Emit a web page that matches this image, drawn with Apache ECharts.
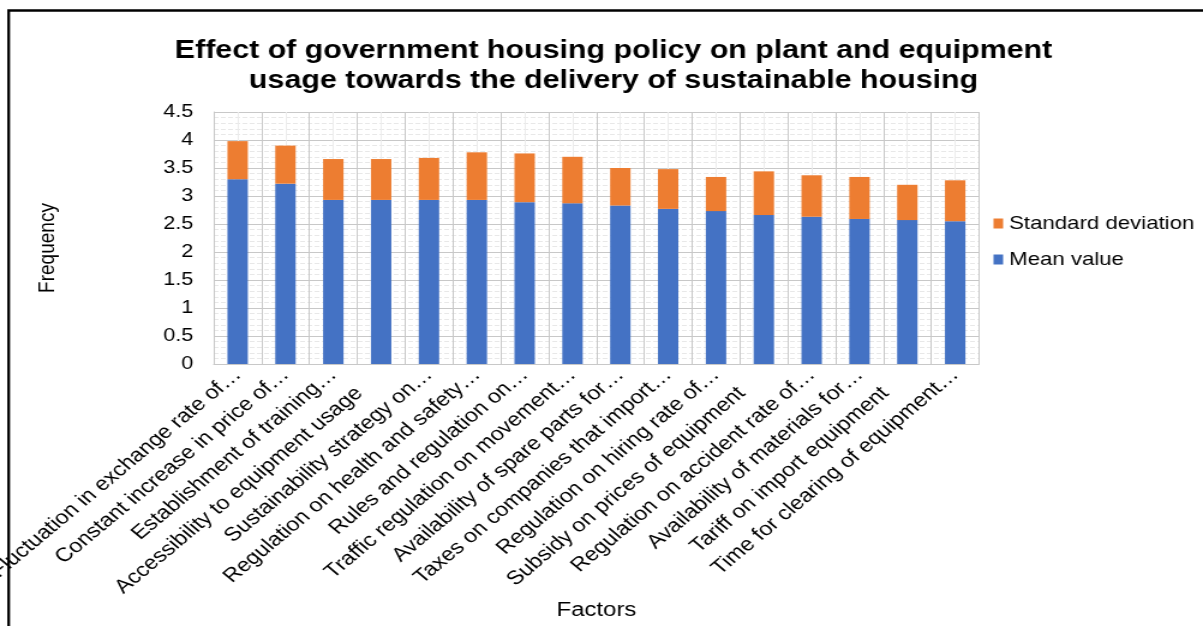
<!DOCTYPE html>
<html>
<head>
<meta charset="utf-8">
<script src="https://cdn.jsdelivr.net/npm/echarts@6/dist/echarts.min.js"></script>
<style>
html,body{margin:0;padding:0;background:#fff;overflow:hidden;}
#c{width:1002px;height:626px;transform:scaleX(1.2006);transform-origin:0 0;}
</style>
</head>
<body>
<div id="c"></div>
<script>
var categories = [
  'Fluctuation in exchange rate of…',
  'Constant increase in price of…',
  'Establishment of training…',
  'Accessibility to equipment usage',
  'Sustainability strategy on…',
  'Regulation on health and safety…',
  'Rules and regulation on…',
  'Traffic regulation on movement…',
  'Availability of spare parts for…',
  'Taxes on companies that import…',
  'Regulation on hiring rate of…',
  'Subsidy on prices of equipment',
  'Regulation on accident rate of…',
  'Availability of materials for…',
  'Tariff on import equipment',
  'Time for clearing of equipment…'
];
var meanValues = [3.30, 3.22, 2.93, 2.93, 2.93, 2.93, 2.89, 2.87, 2.83, 2.77, 2.73, 2.66, 2.63, 2.59, 2.57, 2.55];
var stdDeviation = [0.68, 0.68, 0.73, 0.73, 0.75, 0.85, 0.87, 0.83, 0.67, 0.71, 0.61, 0.78, 0.74, 0.75, 0.63, 0.73];
var yTicks = { min: 0, max: 4.5, interval: 0.5 };

var chart = echarts.init(document.getElementById('c'));
var font = 'Liberation Sans, Arial, sans-serif';
chart.setOption({
  animation: false,
  textStyle: { fontFamily: font },
  title: {
    text: 'Effect of government housing policy on plant and equipment\nusage towards the delivery of sustainable housing',
    left: 506, top: 31, textAlign: 'center',
    textStyle: { fontSize: 25.3, fontWeight: 'bold', color: '#000', lineHeight: 30, fontFamily: font }
  },
  legend: {
    orient: 'vertical', left: 822.5, top: 209, itemGap: 17,
    itemWidth: 8, itemHeight: 10, icon: 'rect',
    data: ['Standard deviation', 'Mean value'],
    textStyle: { fontSize: 18.5, color: '#000', fontFamily: font }
  },
  grid: { left: 178, right: 186.5, top: 112, bottom: 262, containLabel: false, outerBoundsMode: 'none' },
  xAxis: [{
    type: 'category', data: categories,
    name: 'Factors', nameLocation: 'middle', nameGap: 236,
    nameTextStyle: { fontSize: 20, color: '#000', fontFamily: font },
    axisLine: { show: true, lineStyle: { color: '#c8c8c8', width: 1 } },
    axisTick: { show: false },
    axisLabel: {
      rotate: 45, fontSize: 19.5, color: '#000', margin: 8, interval: 0, fontFamily: font,
      formatter: function (v) { return /…$/.test(v) ? v : v + '{s| }'; },
      rich: { s: { width: 26, fontSize: 19.5 } }
    },
    splitLine: { show: true, lineStyle: { color: '#c8c8c8', width: 1 } }
  }, {
    type: 'value', min: 0, max: 16, interval: 1, show: true, position: 'bottom',
    axisLine: { show: false }, axisTick: { show: false }, axisLabel: { show: false },
    splitLine: { show: false },
    minorTick: { show: false, splitNumber: 2 },
    minorSplitLine: { show: true, lineStyle: { color: '#ececec', width: 1 } }
  }],
  yAxis: {
    type: 'value', min: yTicks.min, max: yTicks.max, interval: yTicks.interval,
    name: 'Frequency', nameLocation: 'middle', nameGap: 129,
    nameTextStyle: { fontSize: 19, color: '#000', fontFamily: font, padding: [0, 20, 0, 0] },
    axisLine: { show: true, lineStyle: { color: '#c8c8c8' } },
    axisTick: { show: false },
    axisLabel: { fontSize: 18, color: '#000', margin: 17, fontFamily: font },
    splitLine: { show: true, lineStyle: { color: '#c8c8c8', width: 1 } },
    minorTick: { show: false, splitNumber: 5 },
    minorSplitLine: { show: true, lineStyle: { color: '#e8e8e8', width: 1, type: 'dashed' } }
  },
  series: [{
    name: 'Mean value', type: 'bar', stack: 'a', data: meanValues,
    barWidth: 17, itemStyle: { color: '#4472C4' }
  }, {
    name: 'Standard deviation', type: 'bar', stack: 'a', data: stdDeviation,
    barWidth: 17, itemStyle: { color: '#ED7D31' }
  }],
  graphic: [{
    type: 'polyline', silent: true,
    shape: { points: [[7.2, 640], [7.2, 10.5], [1010, 10.5]] },
    style: { stroke: '#000', lineWidth: 2.3, fill: null }
  }]
});
</script>
</body>
</html>
